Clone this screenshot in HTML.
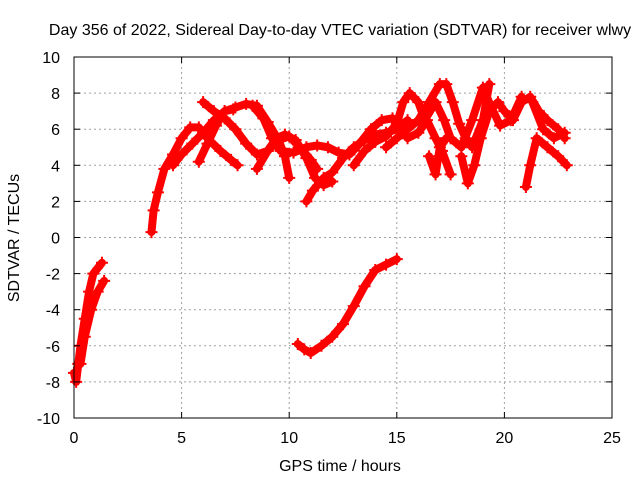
<!DOCTYPE html>
<html><head><meta charset="utf-8"><style>
body{margin:0;background:#fff}
svg{font-family:"Liberation Sans",sans-serif;font-size:16px}
</style></head><body>
<svg id="chart" width="640" height="480">
<text x="340" y="35" text-anchor="middle">Day 356 of 2022, Sidereal Day-to-day VTEC variation (SDTVAR) for receiver wlwy</text>
<text x="340" y="471" text-anchor="middle">GPS time / hours</text>
<text transform="translate(19,238) rotate(-90)" text-anchor="middle">SDTVAR / TECUs</text>
<g id="grid"></g><g id="marks"></g><g id="axes"></g>
</svg>
<script>
const xTicks=[0,5,10,15,20,25];
const yTicks=[-10,-8,-6,-4,-2,0,2,4,6,8,10];
const tracks=[
[[0,-7.5],[0.1,-8],[0.2,-7],[0.3,-6],[0.5,-4.5],[0.7,-3],[0.9,-2],[1.3,-1.4]],
[[0.3,-7],[0.5,-5.5],[0.8,-4],[1.1,-3],[1.4,-2.4]],
[[3.6,0.3],[3.7,1.5],[3.9,2.5],[4.2,3.8],[4.6,4.6],[5,5.5],[5.4,6.1],[5.8,6.1],[6.2,5.5],[6.8,4.8],[7.3,4.3],[7.6,4.0]],
[[4.6,4.0],[5.0,4.6],[5.5,5.2],[6,5.8],[6.5,6.5],[7,7],[7.5,7.2],[8,7.4],[8.5,7.3],[9,6.4],[9.5,5.4],[9.8,4.5],[10,3.3]],
[[6,7.5],[6.5,7],[7,6.6],[7.5,6],[8,5.2],[8.5,4.6],[9,4.8],[9.5,5.4],[10,5.6],[10.5,5.0],[11,4.3],[11.3,3.8]],
[[5.8,4.2],[6.2,5.2],[6.6,6.2],[7,7],[7.4,7.1]],
[[8.3,7.3],[8.8,6.6],[9.2,5.5],[9.6,4.8],[10.2,4.7],[10.8,5],[11.3,5.1],[11.8,5],[12.3,4.7],[12.8,4.6],[13.2,5.1],[13.8,6.0],[14.3,6.5],[14.8,6.6]],
[[8.5,3.8],[9,4.8],[9.4,5.5],[9.8,5.7],[10.3,5.4],[10.8,4.4],[11.2,3.3],[11.6,2.9],[12,3.1]],
[[10.8,2.0],[11.1,2.6],[11.6,3.3],[12,3.6],[12.5,4.4],[13,5.0],[13.5,5.4],[14,5.7],[14.5,5.8],[15,6.0],[15.5,6.5]],
[[13,4.0],[13.5,4.8],[14,5.3],[14.5,5.6],[15,6.3],[15.3,7.5],[15.6,8.0],[16,7.5],[16.3,6.5]],
[[14.5,5.0],[15,5.5],[15.5,6],[16,6.5],[16.5,7.5],[17,8.5],[17.3,8.5],[17.6,7.5],[17.9,6.3],[18.2,5.5],[18.5,5],[19,6.5],[19.3,8.5]],
[[15.5,5.5],[16,5.8],[16.4,6.5],[16.8,5.5],[17.1,4.8],[17.5,3.5]],
[[16.5,4.5],[16.8,3.5],[17,5],[17.3,5.5]],
[[18,4.5],[18.3,3.0],[18.6,4.0],[18.9,5.5],[19.3,7],[19.7,7.5],[20,7],[20.4,6.5],[20.8,7.5],[21.2,7.8],[21.6,7.0],[22,6.5],[22.5,6.0],[22.8,5.5]],
[[16.3,6.5],[16.8,7.5],[17.2,6.5],[17.5,5.5],[18,5.0],[18.5,6.5],[19,8.3],[19.4,7.2],[19.8,6.2],[20.3,6.5],[20.8,7.8]],
[[21,2.8],[21.2,4],[21.5,5.5],[22,5],[22.5,4.5],[22.9,4.0]],
[[21.3,7.5],[21.8,6.0],[22.3,5.5],[22.8,5.8]],
[[10.4,-5.9],[10.7,-6.2],[11,-6.4],[11.5,-6],[12,-5.5],[12.5,-4.8],[13,-3.8],[13.5,-2.7],[14,-1.8],[14.5,-1.5],[15,-1.2]]
];
const L=74,R=612,T=57,B=418,NS="http://www.w3.org/2000/svg";
const X=v=>L+(v-0)/25*(R-L), Y=v=>B-(v+10)/20*(B-T);
function mk(tag,attrs,parent){const e=document.createElementNS(NS,tag);for(const k in attrs)e.setAttribute(k,attrs[k]);parent.appendChild(e);return e;}
const grid=document.getElementById('grid'),marks=document.getElementById('marks'),axes=document.getElementById('axes');
xTicks.forEach(t=>{
 if(t>0&&t<25){const g=mk('line',{x1:X(t),x2:X(t),y1:T,y2:B,stroke:'#a0a0a0','stroke-dasharray':'2,3'},grid);
 }
 mk('line',{x1:X(t),x2:X(t),y1:B,y2:B-6,stroke:'#000'},axes);
 mk('line',{x1:X(t),x2:X(t),y1:T,y2:T+6,stroke:'#000'},axes);
 const tx=mk('text',{x:X(t),y:B+25,'text-anchor':'middle'},axes);tx.textContent=t;
 
});
yTicks.forEach(t=>{
 if(t>-10&&t<10){const g=mk('line',{x1:L,x2:R,y1:Y(t),y2:Y(t),stroke:'#a0a0a0','stroke-dasharray':'2,3'},grid);
 }
 mk('line',{x1:L,x2:L+6,y1:Y(t),y2:Y(t),stroke:'#000'},axes);
 mk('line',{x1:R,x2:R-6,y1:Y(t),y2:Y(t),stroke:'#000'},axes);
 const tx=mk('text',{x:L-14,y:Y(t)+6,'text-anchor':'end'},axes);tx.textContent=t;
 
});
const fr=mk('rect',{x:L,y:T,width:R-L,height:B-T,fill:'none',stroke:'#000'},axes);

tracks.forEach(tr=>{
 const pl=mk('polyline',{points:tr.map(p=>X(p[0])+','+Y(p[1])).join(' '),fill:'none',stroke:'#f00','stroke-width':8,'stroke-linejoin':'round','stroke-linecap':'round'},marks);
 
 tr.forEach(p=>{
  const m=mk('path',{d:`M${X(p[0])-6},${Y(p[1])}h12M${X(p[0])},${Y(p[1])-6}v12`,stroke:'#f00','stroke-width':2},marks);
  
 });
});
</script>
</body></html>
